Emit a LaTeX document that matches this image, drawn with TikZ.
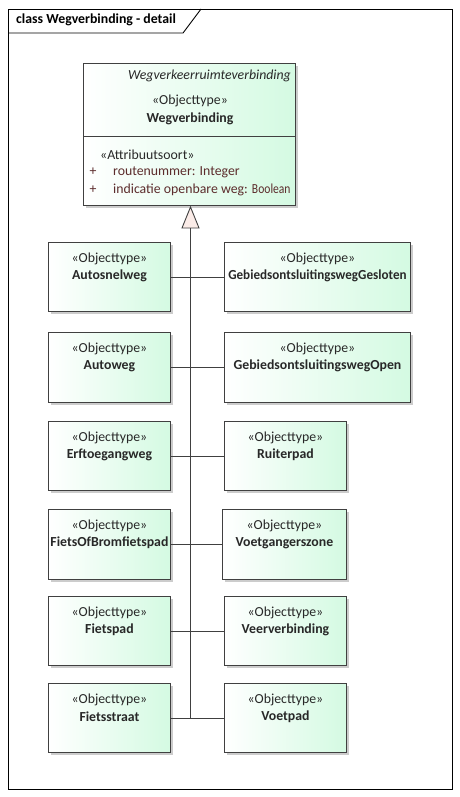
\documentclass[tikz,border=0pt]{standalone}
\usepackage{fontspec}
\setmainfont{Carlito}
\usetikzlibrary{calc}
\definecolor{boxgreen}{RGB}{212,250,226}
\definecolor{edge}{RGB}{64,64,64}
\definecolor{txt}{RGB}{40,40,40}
\definecolor{shadowc}{RGB}{204,204,204}
\definecolor{tri}{RGB}{251,236,232}
\definecolor{attr}{RGB}{92,44,44}
\newcommand{\dfont}{\fontsize{13.8}{16}\selectfont}
\tikzset{
  cls/.style={draw=edge, line width=0.9pt, left color=white, right color=boxgreen, inner sep=0pt, anchor=north west},
  stereo/.style={text=txt, inner sep=0pt, font=\dfont},
  bname/.style={text=txt, inner sep=0pt, font=\dfont\bfseries},
  plain/.style={text=txt, inner sep=0pt, font=\dfont},
  link/.style={draw=edge, line width=0.9pt},
}
\newcommand{\objbox}[6]{%
  \fill[shadowc] (#2+3,#3+3) rectangle ++(#4,#5);
  \node[cls, minimum width=#4pt, minimum height=#5pt] (#1) at (#2,#3) {};
  \node[stereo] (#1-st) at ($(#1.north)+(0,17)$) {«Objecttype»};
  \node[bname] (#1-nm) at ($(#1.north)+(0,34)$) {#6};
}
\begin{document}
\begin{tikzpicture}[x=1pt,y=-1pt]
\useasboundingbox (0,0) rectangle (460,797);
\fill[white] (0,0) rectangle (460,797);
% frame
\node[draw=black, line width=0.9pt, minimum width=444pt, minimum height=780pt, anchor=north west, inner sep=0pt] (frame) at (8,9) {};
\draw[black, line width=0.9pt] (frame.north west) ++(193,0) coordinate (tabr) -- ++(-18,24) coordinate (tabb) -- (tabb -| frame.west);
\node[bname, text=black, anchor=west] (title) at (16,20) {class Wegverbinding - detail};
% main class
\fill[shadowc] (86,66) rectangle (298,208);
\node[cls, minimum width=212pt, minimum height=142pt] (main) at (83,63) {};
\draw[edge, line width=0.9pt] (main.west |- 0,136) -- (main.east |- 0,136);
\node[plain, anchor=east, font=\dfont\itshape] (parent) at (291,76) {Wegverkeerruimteverbinding};
\node[stereo] (main-st) at (190,101) {«Objecttype»};
\node[bname] (main-nm) at (190,119) {Wegverbinding};
\node[plain, anchor=west] (attrst) at (100,155) {«Attribuutsoort»};
\node[plain, text=attr] (p1) at (93,172) {+};
\node[plain, text=attr] (p2) at (93,190) {+};
\node[plain, text=attr, anchor=west] (a1) at (113,172) {routenummer: Integer};
\node[plain, text=attr, anchor=west] (a2) at (113,190) {indicatie openbare weg: \scalebox{0.84}[1]{Boolean}};
% subclasses
\objbox{autosnelweg}{48}{242}{122}{69}{Autosnelweg}
\objbox{gesloten}{224}{242}{186}{69}{\scalebox{0.95}[1]{GebiedsontsluitingswegGesloten}}
\objbox{autoweg}{48}{332}{122}{70}{Autoweg}
\objbox{open}{224}{332}{186}{70}{GebiedsontsluitingswegOpen}
\objbox{erf}{48}{421}{122}{69}{Erftoegangweg}
\objbox{ruiter}{224}{421}{122}{69}{Ruiterpad}
\objbox{fob}{48}{509}{122}{70}{FietsOfBromfietspad}
\objbox{voetg}{222}{509}{124}{70}{Voetgangerszone}
\objbox{fietspad}{48}{596}{122}{69}{Fietspad}
\objbox{veer}{224}{596}{122}{69}{Veerverbinding}
\objbox{fietsstraat}{48}{683}{122}{69}{Fietsstraat}
\objbox{voetpad}{224}{683}{122}{69}{Voetpad}
% generalization
\coordinate (tip) at (190.5,207);
\coordinate (base) at (190.5,228);
\draw[edge, line width=0.9pt, fill=tri] (tip) -- (182,228) -- (199,228) -- cycle;
\coordinate (bottom) at (190.5, 717.5);
\draw[link] (base) -- (bottom);
\draw[link] (autosnelweg.east) -- (gesloten.west);
\draw[link] (autoweg.east) -- (open.west);
\draw[link] (erf.east) -- (ruiter.west);
\draw[link] (fob.east) -- (voetg.west);
\draw[link] (fietspad.east) -- (veer.west);
\draw[link] (fietsstraat.east) -- (voetpad.west);
\end{tikzpicture}
\end{document}
